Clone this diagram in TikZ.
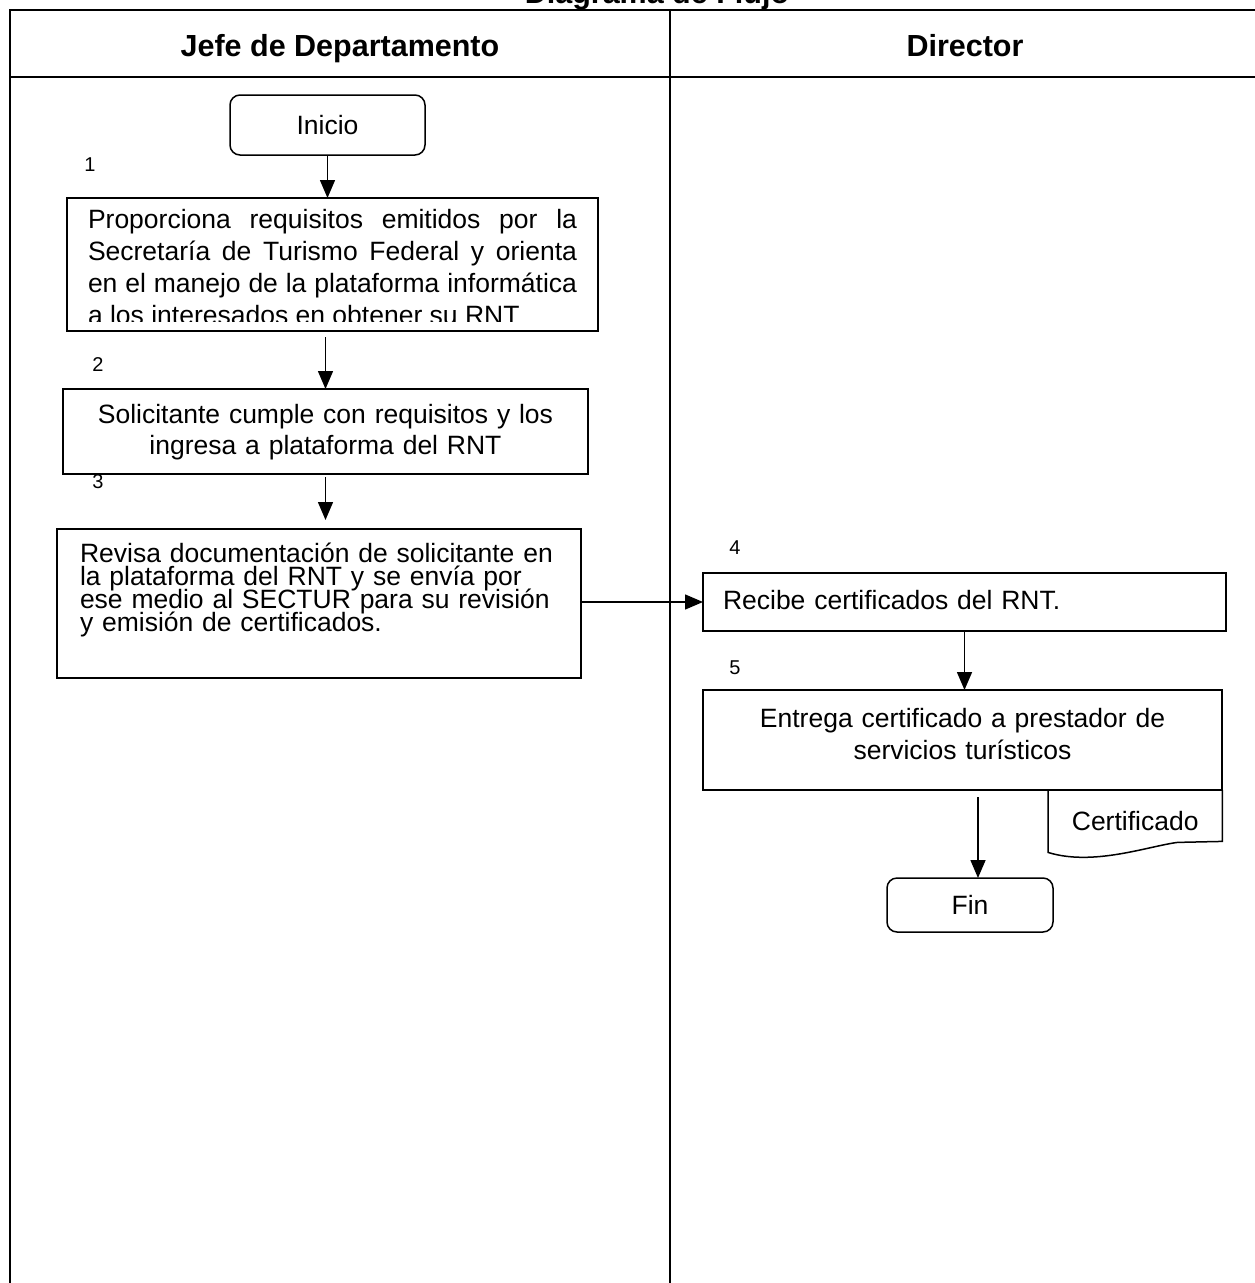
\documentclass[tikz,border=0pt]{standalone}
\usepackage{fontspec}
\setmainfont{Liberation Sans}
\usetikzlibrary{positioning, arrows.meta, calc}

\newcommand{\bodysize}{\fontsize{26.5}{31.5}\selectfont}
\newcommand{\widesize}{\fontsize{26.5}{32}\selectfont}
\newcommand{\tightsize}{\fontsize{26.5}{23}\selectfont\lineskiplimit=-30pt}
\newcommand{\numsize}{\fontsize{20}{22}\selectfont}
\newcommand{\headsize}{\fontsize{30.5}{34}\selectfont\bfseries}

\begin{document}
\begin{tikzpicture}[
  x=1pt, y=-1pt,
  font=\bodysize,
  lane/.style={line width=2.4pt},
  box/.style={rectangle, draw, line width=1.5pt, inner ysep=0pt, outer sep=0pt, anchor=north west},
  term/.style={rectangle, rounded corners=10pt, draw, line width=1.5pt, outer sep=0pt, align=center},
  num/.style={font=\numsize},
  head/.style={font=\headsize, anchor=base},
  arr/.style={-{Triangle[length=18pt, width=15pt]}, line width=1.5pt},
]
  \useasboundingbox (0,0) rectangle (1255,1283);

  % Swimlanes
  \draw[lane] (10,1283) -- (10,10) -- (1255,10);
  \draw[lane] (10,77) -- (1255,77);
  \draw[lane] (670,10) -- (670,1283);
  \node[head] (title) at (657,3) {Diagrama de Flujo};
  \node[head] (hjefe) at (340,56) {Jefe de Departamento};
  \node[head] (hdir) at (965,56) {Director};

  % Jefe de Departamento
  \node[term, minimum width=195pt, minimum height=60pt] (ini) at (327.5,125) {Inicio};

  \node[num] (n1) at (90,165) {1};
  \begin{scope}
    \clip (60,190) rectangle (610,321);
    \node[box, font=\widesize, text width=489pt, align=justify, inner xsep=21pt, text height=30pt, text depth=103pt] (p1) at (67,198)
      {Proporciona requisitos emitidos por la\linebreak Secretaría de Turismo Federal y orienta\linebreak en el manejo de la plataforma informática\linebreak a los interesados en obtener su RNT};
  \end{scope}
  \draw[line width=1.5pt] ($(p1.south west)+(0,-12)$) -- (p1.south west) -- (p1.south east) -- ($(p1.south east)+(0,-12)$);

  \node[num] (n2) at (98,365) {2};
  \node[box, text width=505pt, align=center, inner xsep=10pt, text height=34pt, text depth=51pt] (p2) at (63,389)
    {Solicitante cumple con requisitos y los\\ingresa a plataforma del RNT};

  \node[num] (n3) at (98,482) {3};
  \node[box, font=\tightsize, text width=478pt, align=left, inner xsep=23pt, text height=33pt, text depth=116pt] (p3) at (57,529)
    {Revisa documentación de solicitante en\\la plataforma del RNT y se envía por\\ese medio al SECTUR para su revisión\\y emisión de certificados.};

  % Director
  \node[num] (n4) at (735,548) {4};
  \node[box, text width=483pt, align=left, inner xsep=20pt, text height=36.5pt, text depth=21.5pt] (p4) at (703,573)
    {Recibe certificados del RNT.};

  \node[num] (n5) at (735,668) {5};
  \node[box, text width=499pt, align=center, inner xsep=10pt, text height=37.5pt, text depth=62.5pt] (p5) at (703,690)
    {Entrega certificado a prestador de\\servicios turísticos};

  % Document
  \node[anchor=north west, minimum width=174pt, minimum height=62pt, inner sep=0pt] (cert) at (1048,790) {Certificado};
  \draw[line width=1.5pt] (cert.north west) -- (cert.south west)
    .. controls ($(cert.south west)+(45,14)$) and ($(cert.south east)+(-75,-6)$) .. ($(cert.south east)+(-45,-10)$)
    -- ($(cert.south east)+(0,-11)$) -- (cert.north east);

  \node[term, minimum width=166pt, minimum height=54pt] (fin) at (970,905) {Fin};

  % Flow
  \draw[arr] (ini.south) -- (ini.south |- p1.north);
  \draw[arr, shorten <=6pt] (p1.south -| p2.north) -- (p2.north);
  \draw[arr, shorten <=3pt, shorten >=9pt] (p2.south) -- (p2.south |- p3.north);
  \draw[arr] (p3.east |- p4.west) -- (p4.west);
  \draw[arr] (p4.south) -- (p4.south |- p5.north);
  \draw[arr, shorten <=7pt] ([xshift=8pt]fin.north |- p5.south) -- ([xshift=8pt]fin.north);

\end{tikzpicture}
\end{document}
